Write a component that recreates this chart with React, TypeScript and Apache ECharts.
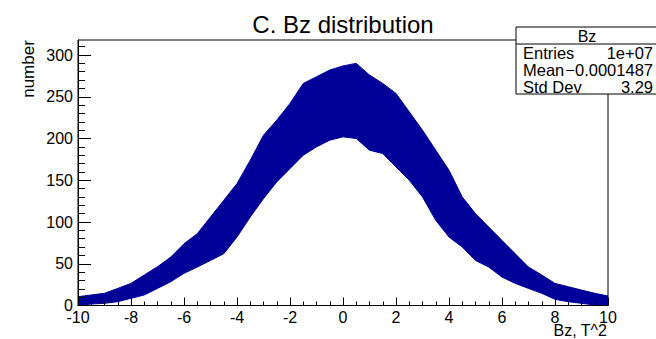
import React, { useEffect, useRef } from "react";
import * as echarts from "echarts";

const xValues = [
  -10, -9.5, -9, -8.5, -8, -7.5, -7, -6.5, -6, -5.5, -5, -4.5, -4, -3.5, -3, -2.5, -2, -1.5, -1, -0.5,
  0, 0.5, 1, 1.5, 2, 2.5, 3, 3.5, 4, 4.5, 5, 5.5, 6, 6.5, 7, 7.5, 8, 8.5, 9, 9.5, 10,
];
// upper envelope of the bin contents
const upperCounts = [
  10.5, 12.6, 14.6, 20.5, 26.5, 36.5, 46.5, 58, 74, 86, 106, 126, 146, 174, 204, 222, 242, 266, 274, 282,
  287, 290, 276, 266, 254, 232, 210, 186, 162, 130, 110, 94, 78, 62, 46, 36.5, 26.5, 22.5, 18.5, 14.6, 11.4,
];
// lower envelope of the bin contents
const lowerCounts = [
  0, 1.8, 2.6, 4.6, 8.6, 12.6, 20.5, 28.5, 38.5, 46, 54, 62, 82, 106, 128, 148, 164, 180, 190, 198,
  202, 200, 186, 182, 166, 150, 130, 102, 82, 70, 54, 46, 34, 26.5, 20.5, 14.6, 7.4, 4.6, 2.6, 0.6, 0,
];
const yMajorTicks = [0, 50, 100, 150, 200, 250, 300];
const yMinorTicks = [
  10, 20, 30, 40, 60, 70, 80, 90, 110, 120, 130, 140, 160, 170, 180, 190, 210, 220, 230, 240, 260, 270,
  280, 290, 310,
];
const statLabels = ["Entries", "Mean", "Std Dev"];
const statValues = ["1e+07", "\u22120.0001487", "3.29"];

const FONT = "'Liberation Sans', Arial, Helvetica, sans-serif";
const NAVY = "#000099";

export default function App() {
  const ref = useRef<HTMLDivElement>(null);
  useEffect(() => {
    if (!ref.current) return;
    const chart = echarts.init(ref.current, null, { renderer: "svg" });
    const upperData = xValues.map((x, i) => [x, upperCounts[i]]);
    const lowerData = xValues.map((x, i) => [x, lowerCounts[i]]);
    const gl = 78, gt = 40, gw = 530, gh = 265.5;
    const boxX = 516, boxY = 27, boxW = 142, boxH = 67;
    const graphic: any[] = [
      {
        type: "text",
        x: 343,
        y: 24,
        z: 100,
        style: { text: "C. Bz distribution", font: `24px ${FONT}`, fill: "#000", align: "center", verticalAlign: "middle" },
      },
      {
        type: "text",
        x: 28,
        y: 69,
        rotation: Math.PI / 2,
        z: 100,
        style: { text: "number", font: `17px ${FONT}`, fill: "#000", align: "center", verticalAlign: "middle" },
      },
      {
        type: "text",
        x: 607,
        y: 330,
        z: 100,
        style: { text: "Bz, T^2", font: `16px ${FONT}`, fill: "#000", align: "right", verticalAlign: "middle" },
      },
      {
        type: "rect",
        z: 100,
        shape: { x: boxX, y: boxY, width: boxW, height: boxH },
        style: { fill: "#fff", stroke: "#000", lineWidth: 1 },
      },
      {
        type: "line",
        z: 101,
        shape: { x1: boxX, y1: 44, x2: boxX + boxW, y2: 44 },
        style: { stroke: "#000", lineWidth: 1 },
      },
      {
        type: "text",
        x: 587,
        y: 36,
        z: 101,
        style: { text: "Bz", font: `16px ${FONT}`, fill: "#000", align: "center", verticalAlign: "middle" },
      },
    ];
    statLabels.forEach((label, i) => {
      const y = 53 + i * 17;
      graphic.push({
        type: "text",
        x: 523,
        y,
        z: 101,
        style: { text: label, font: `16.5px ${FONT}`, fill: "#000", align: "left", verticalAlign: "middle" },
      });
      graphic.push({
        type: "text",
        x: 653,
        y,
        z: 101,
        style: { text: statValues[i], font: `16.5px ${FONT}`, fill: "#000", align: "right", verticalAlign: "middle" },
      });
    });

    chart.setOption({
      animation: false,
      backgroundColor: "#fff",
      grid: {
        left: gl,
        top: gt,
        width: gw,
        height: gh,
        show: true,
        borderColor: "#000",
        borderWidth: 1,
        backgroundColor: "transparent",
      },
      xAxis: {
        type: "value",
        min: -10,
        max: 10,
        interval: 2,
        z: 10,
        axisLine: { show: true, onZero: false, lineStyle: { color: "#000", width: 1 } },
        axisTick: { show: true, inside: true, length: 8, lineStyle: { color: "#000" } },
        minorTick: { show: true, splitNumber: 4, length: 4, lineStyle: { color: "#000" } },
        splitLine: { show: false },
        minorSplitLine: { show: false },
        axisLabel: { fontSize: 16, color: "#000", margin: 4, fontFamily: FONT },
      },
      yAxis: [
        {
          type: "value",
          min: 0,
          max: 318,
          z: 10,
          axisLine: { show: true, onZero: false, lineStyle: { color: "#000", width: 1 } },
          axisTick: { show: true, inside: true, length: 13, customValues: yMajorTicks, lineStyle: { color: "#000" } },
          axisLabel: { fontSize: 16, color: "#000", margin: 5, fontFamily: FONT, customValues: yMajorTicks },
          splitLine: { show: false },
        },
        {
          type: "value",
          min: 0,
          max: 318,
          position: "left",
          z: 10,
          axisLine: { show: false, onZero: false },
          axisTick: { show: true, inside: true, length: 7, customValues: yMinorTicks, lineStyle: { color: "#000" } },
          axisLabel: { show: false },
          splitLine: { show: false },
        },
      ],
      series: [
        {
          type: "line",
          name: "Bz",
          data: upperData,
          symbol: "none",
          z: 2,
          lineStyle: { color: NAVY, width: 1 },
          itemStyle: { color: NAVY },
          areaStyle: { color: NAVY, opacity: 1, origin: "start" },
        },
        {
          type: "line",
          name: "Bz lower",
          data: lowerData,
          symbol: "none",
          z: 3,
          lineStyle: { color: NAVY, width: 1 },
          itemStyle: { color: NAVY },
          areaStyle: { color: "#ffffff", opacity: 1, origin: "start" },
        },
      ],
      graphic,
    });
    return () => chart.dispose();
  }, []);
  return <div ref={ref} style={{ position: "absolute", left: 0, top: 0, width: 656, height: 339 }} />;
}
